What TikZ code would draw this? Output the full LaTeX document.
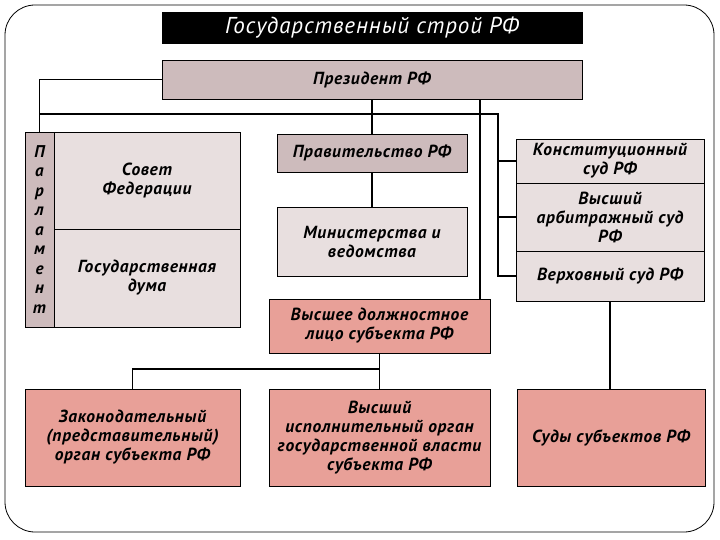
\documentclass[tikz,border=0pt]{standalone}
\usepackage{fontspec}
\setmainfont{PT Sans}
\newfontfamily\hand{PT Sans}[LetterSpace=4]
\begin{document}
\begin{tikzpicture}[x=1pt,y=-1pt,
  box/.style={draw=black,line width=0.8pt,inner sep=0pt,align=center,font=\hand\bfseries\itshape\fontsize{17.5}{19}\selectfont},
  mid/.style={box,fill=boxmid},
  light/.style={box,fill=boxlight},
  salmon/.style={box,fill=boxsalmon},
  conn/.style={line width=1.6pt,line cap=rect}]
\definecolor{boxmid}{HTML}{CDBBBC}
\definecolor{boxlight}{HTML}{E8DFDF}
\definecolor{boxsalmon}{HTML}{E8A098}
\useasboundingbox (0,0) rectangle (720,540);
\draw[line width=0.8pt,rounded corners=30pt] (5,5) rectangle (714,532);

\node[box,fill=black,text=white,minimum width=420pt,minimum height=31pt,font=\hand\itshape\fontsize{23}{24}\selectfont] (title) at (372,27.5) {Государственный строй РФ};
\node[mid,minimum width=420pt,minimum height=39pt] (pres) at (372,79.5) {Президент РФ};

\node[mid,minimum width=29pt,minimum height=195pt,font=\hand\bfseries\itshape\fontsize{17}{19.5}\selectfont] (parl) at (39.5,229.5) {П\\а\\р\\л\\а\\м\\е\\н\\т};
\node[light,minimum width=186pt,minimum height=97pt] (sovet) at (147,180.5) {Совет\\Федерации};
\node[light,minimum width=186pt,minimum height=98pt] (duma) at (147,278) {Государственная\\дума};

\node[mid,minimum width=190pt,minimum height=38pt] (gov) at (372,153) {Правительство РФ};
\node[light,minimum width=190pt,minimum height=69pt] (min) at (372,241.5) {Министерства и\\ведомства};
\node[salmon,minimum width=221pt,minimum height=54pt] (vdl) at (379.5,326) {Высшее должностное\\лицо субъекта РФ};

\node[light,minimum width=188pt,minimum height=44pt] (konst) at (610,161) {Конституционный\\суд РФ};
\node[light,minimum width=188pt,minimum height=68pt] (arb) at (610,217) {Высший\\арбитражный суд\\РФ};
\node[light,minimum width=188pt,minimum height=50pt] (verh) at (610,276) {Верховный суд РФ};

\node[salmon,minimum width=215pt,minimum height=97pt] (zak) at (132.5,437.5) {Законодательный\\(представительный)\\орган субъекта РФ};
\node[salmon,minimum width=221pt,minimum height=97pt] (vio) at (379.5,437.5) {Высший\\исполнительный орган\\государственной власти\\субъекта РФ};
\node[salmon,minimum width=188pt,minimum height=97pt] (sudy) at (611,437.5) {Суды субъектов РФ};

\coordinate (j1) at (39.5,114);
\coordinate (j2) at (498,114);
\coordinate (c480) at (480,0);
\coordinate (t) at (379.5,369);

\draw[conn] (pres.west) -| (parl.north);
\draw[conn] (j1) -- (j2) |- (verh.west);
\draw[conn] (konst.west) -- (konst.west -| j2);
\draw[conn] (arb.west) -- (arb.west -| j2);
\draw[conn] (gov.north |- pres.south) -- (gov.north);
\draw[conn] (gov.south) -- (min.north);
\draw[conn] (c480 |- pres.south) -- (c480 |- vdl.north);
\draw[conn] (vdl.south) -- (vio.north);
\draw[conn] (t) -| (zak.north);
\draw[conn] (verh.south) -- (sudy.north -| verh.south);
\end{tikzpicture}
\end{document}
